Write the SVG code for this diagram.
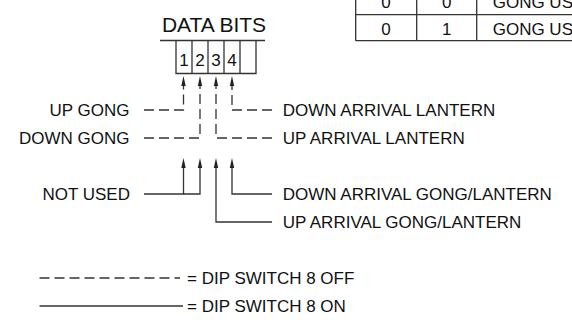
<svg xmlns="http://www.w3.org/2000/svg" width="572" height="320" viewBox="0 0 572 320">
<style>
.ln{fill:none;stroke:#333;stroke-width:1.3}
.dash{stroke-dasharray:10 5}
text{font-family:"Liberation Sans",Arial,Helvetica,sans-serif;font-size:17px;fill:#111}
.mid{text-anchor:middle}
.end{text-anchor:end}
.dig{font-size:17px}
</style>
<defs>
<marker id="ah" markerUnits="userSpaceOnUse" markerWidth="12" markerHeight="6" viewBox="0 -3 12 6" refX="2" refY="0" orient="auto">
<path d="M0,-2.2 L10,0 L0,2.2 z" fill="#222"/>
</marker>
</defs>
<rect width="572" height="320" fill="#fff"/>

<g id="table">
<path class="ln" d="M355.7,0 V40.7 M416.7,0 V40.7 M476.7,0 V40.7 M355.7,14.7 H572 M355.7,40.7 H572"/>
<text class="mid" x="386" y="8">0</text>
<text class="mid" x="446.7" y="8">0</text>
<text x="492.7" y="8">GONG US</text>
<text class="mid" x="386" y="35">0</text>
<text class="mid" x="446.7" y="35">1</text>
<text x="492.7" y="35">GONG US</text>
</g>

<g id="data-bits">
<text class="mid" x="214" y="31.5" style="font-size:21px">DATA BITS</text>
<path class="ln" d="M160,40.5 H265 M176,40.5 V73.5 H256 V40.5 M192,40.5 V73.5 M208,40.5 V73.5 M224,40.5 V73.5 M240,40.5 V73.5"/>
<text class="mid dig" x="184" y="65.5">1</text>
<text class="mid dig" x="200" y="65.5">2</text>
<text class="mid dig" x="216" y="65.5">3</text>
<text class="mid dig" x="232" y="65.5">4</text>
</g>

<g id="connectors">
<path class="ln dash" d="M144,110 H183.5 V84" marker-end="url(#ah)"/>
<path class="ln dash" d="M144,138 H200 V84" marker-end="url(#ah)"/>
<path class="ln dash" d="M272,138 H216 V84" marker-end="url(#ah)"/>
<path class="ln dash" d="M272,110 H232 V84" marker-end="url(#ah)"/>
<path class="ln" d="M144,194 H183.5 V166" marker-end="url(#ah)"/>
<path class="ln" d="M183.5,194 H200 V166" marker-end="url(#ah)"/>
<path class="ln" d="M272,222 H216 V166" marker-end="url(#ah)"/>
<path class="ln" d="M272,194 H232 V166" marker-end="url(#ah)"/>
</g>

<g id="up-gong"><text class="end" x="129.5" y="116">UP GONG</text></g>
<g id="down-gong"><text class="end" x="129.5" y="144">DOWN GONG</text></g>
<g id="not-used"><text class="end" x="130" y="200">NOT USED</text></g>
<g id="down-arrival-lantern"><text x="282.7" y="116">DOWN ARRIVAL LANTERN</text></g>
<g id="up-arrival-lantern"><text x="282.7" y="144">UP ARRIVAL LANTERN</text></g>
<g id="down-arrival-gong-lantern"><text x="282.7" y="200">DOWN ARRIVAL GONG/LANTERN</text></g>
<g id="up-arrival-gong-lantern"><text x="282.7" y="228">UP ARRIVAL GONG/LANTERN</text></g>

<g id="legend-off">
<path class="ln dash" d="M39.5,278 H180"/>
<text x="187" y="284">= DIP SWITCH 8 OFF</text>
</g>
<g id="legend-on">
<path class="ln" d="M39.5,306 H183"/>
<text x="187" y="312">= DIP SWITCH 8 ON</text>
</g>
</svg>
